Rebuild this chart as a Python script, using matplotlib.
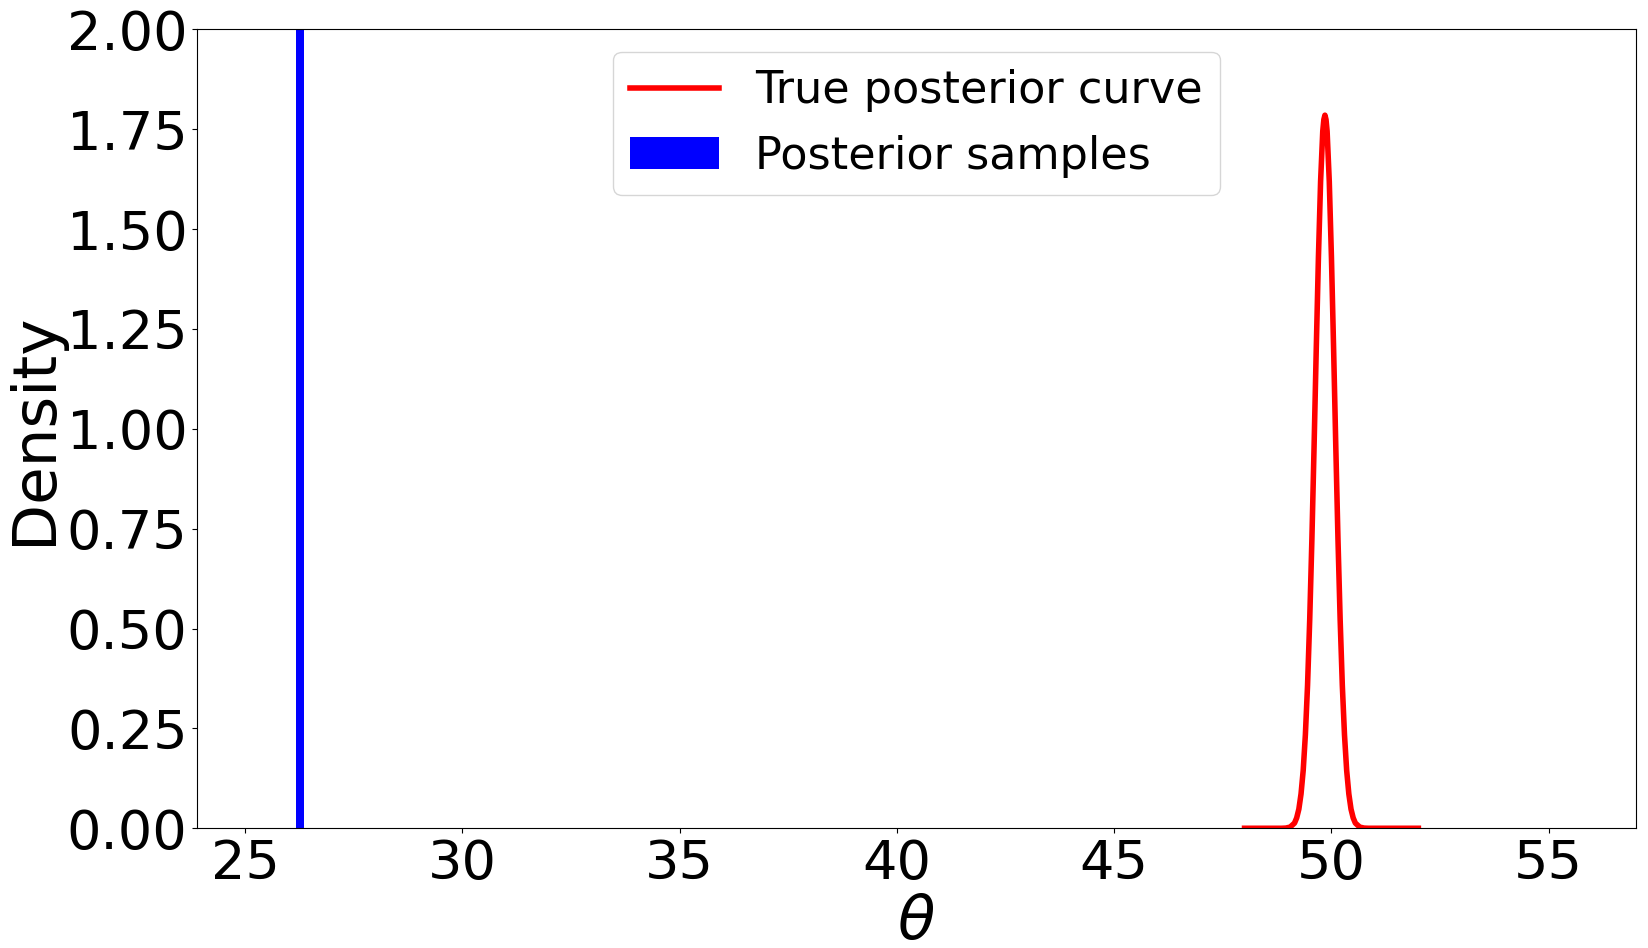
import matplotlib
matplotlib.use("Agg")
import matplotlib.pyplot as plt
from matplotlib.ticker import MultipleLocator, FormatStrFormatter

# true posterior density
theta = [48.00, 48.85, 48.95, 49.05, 49.15, 49.20, 49.25, 49.30, 49.35, 49.40,
         49.45, 49.50, 49.55, 49.60, 49.65, 49.70, 49.75, 49.80, 49.825, 49.85,
         49.875, 49.90, 49.95, 50.00, 50.05, 50.10, 50.15, 50.20, 50.25, 50.30,
         50.35, 50.40, 50.45, 50.50, 50.55, 50.65, 50.75, 50.85, 52.00]
density = [0.0, 0.0, 0.0005, 0.003, 0.013, 0.026, 0.048, 0.086, 0.145, 0.234,
           0.358, 0.523, 0.724, 0.955, 1.198, 1.428, 1.619, 1.745, 1.774, 1.785,
           1.774, 1.745, 1.619, 1.428, 1.198, 0.955, 0.724, 0.523, 0.358, 0.234,
           0.145, 0.086, 0.048, 0.026, 0.013, 0.003, 0.0005, 0.0, 0.0]

# posterior samples histogram (single bin, clipped at top)
sample_bin_left = [26.18]
sample_bin_width = [0.175]
sample_bin_height = [5.7]

fig = plt.figure(figsize=(16.48, 9.48), dpi=100)
ax = fig.add_axes([0.1197, 0.1263, 0.8728, 0.8428])

ax.plot(theta, density, color='red', linewidth=4, label='True posterior curve')
ax.bar(sample_bin_left, sample_bin_height, width=sample_bin_width, align='edge',
       color='blue', label='Posterior samples')

ax.set_xlim(23.9, 57.0)
ax.set_ylim(0, 2)
ax.yaxis.set_major_locator(MultipleLocator(0.25))
ax.yaxis.set_major_formatter(FormatStrFormatter('%.2f'))
ax.xaxis.set_major_locator(MultipleLocator(5))
ax.tick_params(labelsize=39)

ax.set_xlabel(r'$\theta$', fontsize=44, labelpad=2)
ax.set_ylabel('Density', fontsize=44, labelpad=2)

ax.legend(loc='upper center', fontsize=32)

fig.savefig('out.png', dpi=100)
